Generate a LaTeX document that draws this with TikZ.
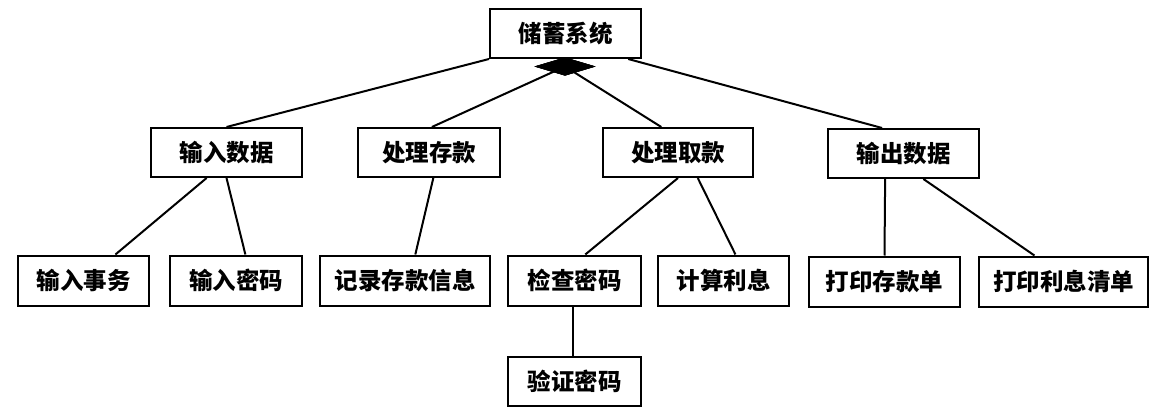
\documentclass[tikz,border=0pt]{standalone}
\usepackage{fontspec}
\newfontfamily\cjk{Noto Sans CJK SC}
\usetikzlibrary{shapes.geometric,calc}
\tikzset{
  box/.style={draw, line width=2pt, rectangle, inner sep=0pt, minimum height=49pt,
    font=\cjk\bfseries\fontsize{23.5}{27}\selectfont},
  link/.style={line width=2pt},
}
\begin{document}
\begin{tikzpicture}[x=1pt,y=-1pt]
\useasboundingbox (0,0) rectangle (1160,417);
\node[box, minimum width=151pt] (root) at (565.5,33.5) {储蓄系统};
\node[diamond, fill=black, draw=black, inner sep=0pt, minimum width=60pt, minimum height=18pt] (dia) at (565,66.5) {};
\node[box, minimum width=151pt] (inp) at (226.5,152.5) {输入数据};
\node[box, minimum width=142pt] (dep) at (429,152.5) {处理存款};
\node[box, minimum width=150pt] (wd) at (678,152.5) {处理取款};
\node[box, minimum width=151pt] (out) at (903.5,153.5) {输出数据};
\node[box, minimum width=131pt, minimum height=50pt] (tx) at (83.5,280.5) {输入事务};
\node[box, minimum width=132pt, minimum height=50pt] (pw) at (236,280.5) {输入密码};
\node[box, minimum width=170pt, minimum height=50pt] (rec) at (405,280.5) {记录存款信息};
\node[box, minimum width=133pt, minimum height=50pt] (chk) at (574.5,280.5) {检查密码};
\node[box, minimum width=131pt, minimum height=50pt] (int) at (723.5,280.5) {计算利息};
\node[box, minimum width=151pt, minimum height=50pt] (pd) at (884.5,281.5) {打印存款单};
\node[box, minimum width=169pt, minimum height=50pt] (pi) at (1063.5,281.5) {打印利息清单};
\node[box, minimum width=133pt] (ver) at (574.5,381.5) {验证密码};
% connectors
\draw[link] ($(root.south west)!0.0!(root.south east)$) -- ($(inp.north west)!0.5!(inp.north east)$);
\draw[link] ($(root.south west)!0.91!(root.south east)$) -- ($(out.north west)!0.36!(out.north east)$);
\draw[link] (dia.center) -- ($(dep.north west)!0.52!(dep.north east)$);
\draw[link] (dia.center) -- ($(wd.north west)!0.39!(wd.north east)$);
\node[diamond, fill=black, draw=black, inner sep=0pt, minimum width=60pt, minimum height=18pt] at (dia.center) {};
\draw[link] ($(inp.south west)!0.37!(inp.south east)$) -- ($(tx.north west)!0.74!(tx.north east)$);
\draw[link] ($(inp.south west)!0.50!(inp.south east)$) -- ($(pw.north west)!0.57!(pw.north east)$);
\draw[link] ($(dep.south west)!0.53!(dep.south east)$) -- ($(rec.north west)!0.56!(rec.north east)$);
\draw[link] ($(wd.south west)!0.50!(wd.south east)$) -- ($(chk.north west)!0.58!(chk.north east)$);
\draw[link] ($(wd.south west)!0.63!(wd.south east)$) -- ($(int.north west)!0.59!(int.north east)$);
\draw[link] ($(out.south west)!0.38!(out.south east)$) -- ($(pd.north west)!0.50!(pd.north east)$);
\draw[link] ($(out.south west)!0.63!(out.south east)$) -- ($(pi.north west)!0.33!(pi.north east)$);
\draw[link] ($(chk.south west)!0.49!(chk.south east)$) -- ($(ver.north west)!0.49!(ver.north east)$);
\end{tikzpicture}
\end{document}
